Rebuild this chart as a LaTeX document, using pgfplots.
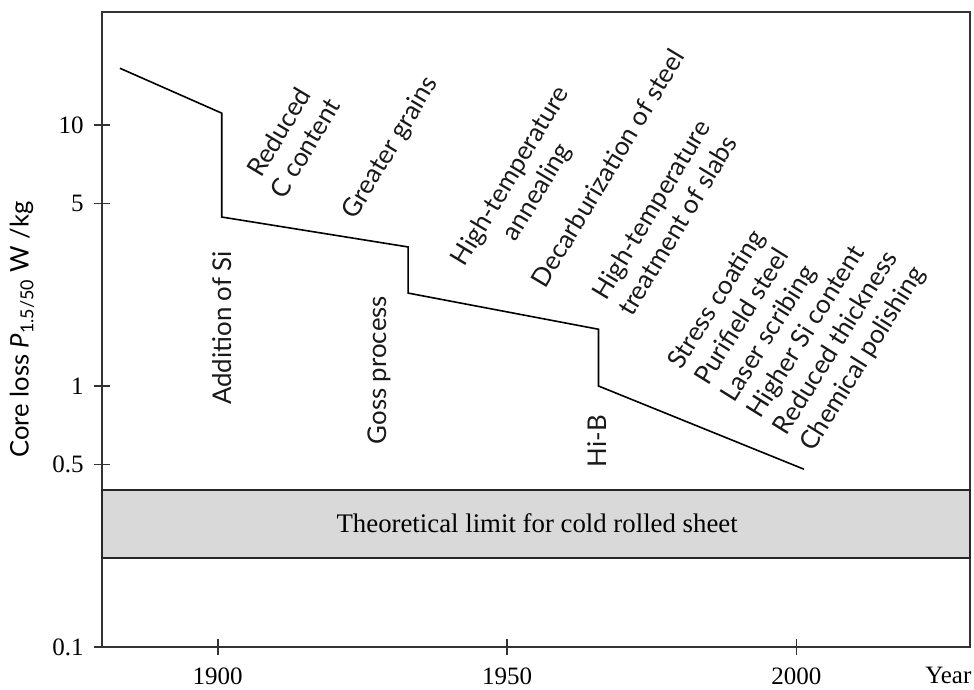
\documentclass[border=0pt]{standalone}
\usepackage{fontspec}
\setmainfont{Liberation Serif}
\newfontfamily\ann{Lato}
\usepackage{pgfplots}
\pgfplotsset{compat=1.18}
\begin{document}
\begin{tikzpicture}
\begin{axis}[
  scale only axis, width=434pt, height=317.5pt,
  xmin=1880, xmax=2030, ymode=log, ymin=0.1, ymax=27.1,
  clip=false,
  axis line style={draw=black!80, line width=1pt},
  xtick={1900,1950,2000}, xticklabels={1900,1950,2000},
  ytick={0.1,0.5,1,5,10}, yticklabels={0.1,0.5,1,5,10},
  yminorticks=false,
  tick align=center, major tick length=8pt,
  xtick pos=bottom, ytick pos=left,
  tick style={draw=black!80, line width=0.8pt},
  tick label style={font=\fontsize{12.5}{14}\selectfont},
  xticklabel style={anchor=base, inner sep=0pt, yshift=-15pt},
  yticklabel style={anchor=east, inner sep=0pt, xshift=-5pt},
  ylabel={Core loss \textit{P}\textsubscript{1.5/50} W /kg},
  ylabel style={at={(axis description cs:-0.0922,0.5)}, anchor=center, font=\ann\fontsize{12.8}{14}\selectfont},
  xlabel={Year},
  xlabel style={at={(axis description cs:0.975,0)}, anchor=base, inner sep=0pt, yshift=-18pt, font=\fontsize{12.5}{14}\selectfont},
]
\coordinate (sw) at (rel axis cs:0,0);
\coordinate (ne) at (rel axis cs:1,1);
\addplot[fill=gray!30, draw=black!85, line width=0.8pt] coordinates {(1880,0.219) (2030,0.219) (2030,0.40) (1880,0.40)} -- cycle;
\addplot[black, line width=0.8pt] coordinates {
(1883.1,16.5) (1900.7,11.1) (1900.7,4.44) (1932.9,3.41) (1932.9,2.27) (1965.8,1.65) (1965.8,1.0) (2001.3,0.48)};
\node[font=\fontsize{13.4}{15}\selectfont] at (axis cs:1955.2,0.297) {Theoretical limit for cold rolled sheet};
\tikzset{ann/.style={font=\ann\fontsize{12.9}{15.5}\selectfont, text=black!90}}
\node[ann, rotate=90] at (axis cs:1900.7,1.67) {Addition of Si};
\node[ann, rotate=90] at (axis cs:1928.0,1.15) {Goss process};
\node[ann, rotate=90] at (axis cs:1965.5,0.615) {Hi-B};
\node[ann, rotate=59, align=center] at (axis cs:1912.8,8.76) {Reduced\\C content};
\node[ann, rotate=59, align=center] at (axis cs:1929.9,8.17) {Greater grains};
\node[ann, rotate=59, align=center] at (axis cs:1953.0,5.92) {High-temperature\\annealing};
\node[ann, rotate=59, align=center] at (axis cs:1967.4,6.84) {Decarburization of steel};
\node[ann, rotate=59, align=center] at (axis cs:1977.1,4.43) {High-temperature\\treatment of slabs};
\node[ann, rotate=58, align=left] at (axis cs:2000.2,1.82) {Stress coating\\Purifield steel\\Laser scribing\\Higher Si content\\Reduced thickness\\Chemical polishing};
\end{axis}
\pgfresetboundingbox
\path[use as bounding box] ([xshift=-51pt,yshift=-21pt]sw) rectangle ([xshift=2pt,yshift=6pt]ne);
\end{tikzpicture}
\end{document}
